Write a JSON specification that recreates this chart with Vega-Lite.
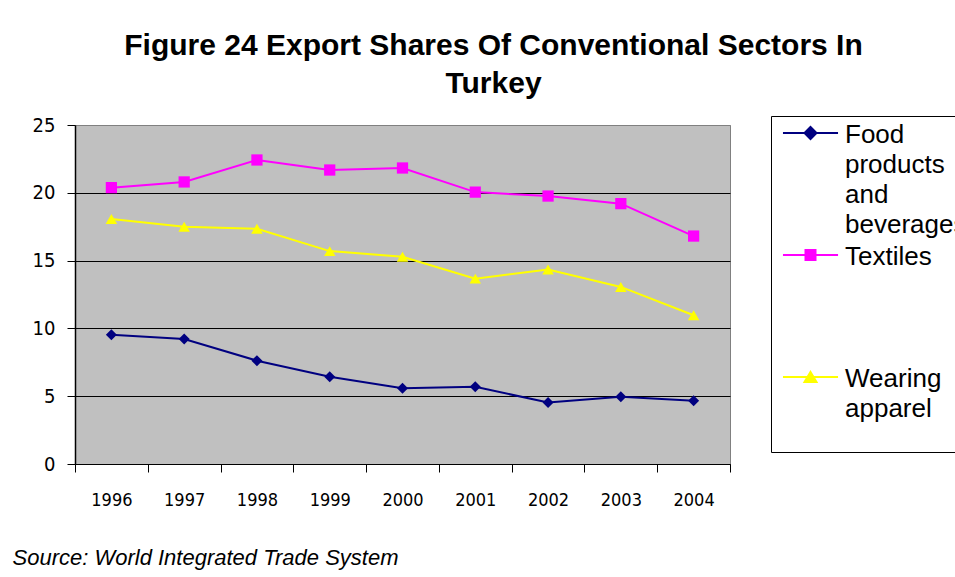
{
  "$schema": "https://vega.github.io/schema/vega-lite/v6.json",
  "autosize": {"type": "none"},
  "width": 655,
  "height": 339,
  "padding": {"left": 75, "top": 125, "right": 225, "bottom": 113},
  "background": "white",
  "title": {
    "text": ["Figure 24 Export Shares Of Conventional Sectors In", "Turkey"],
    "font": "Liberation Sans",
    "fontSize": 30,
    "fontWeight": "bold",
    "color": "black",
    "anchor": "middle",
    "frame": "group",
    "dx": 91,
    "dy": 40,
    "lineHeight": 38,
    "baseline": "bottom",
    "offset": 26
  },
  "data": {
    "values": [
      {"year": "1996", "series": "Food products and beverages", "value": 9.54},
      {"year": "1997", "series": "Food products and beverages", "value": 9.22},
      {"year": "1998", "series": "Food products and beverages", "value": 7.62},
      {"year": "1999", "series": "Food products and beverages", "value": 6.44},
      {"year": "2000", "series": "Food products and beverages", "value": 5.58},
      {"year": "2001", "series": "Food products and beverages", "value": 5.69},
      {"year": "2002", "series": "Food products and beverages", "value": 4.54},
      {"year": "2003", "series": "Food products and beverages", "value": 4.96},
      {"year": "2004", "series": "Food products and beverages", "value": 4.66},
      {"year": "1996", "series": "Textiles", "value": 20.38},
      {"year": "1997", "series": "Textiles", "value": 20.8},
      {"year": "1998", "series": "Textiles", "value": 22.42},
      {"year": "1999", "series": "Textiles", "value": 21.68},
      {"year": "2000", "series": "Textiles", "value": 21.83},
      {"year": "2001", "series": "Textiles", "value": 20.05},
      {"year": "2002", "series": "Textiles", "value": 19.76},
      {"year": "2003", "series": "Textiles", "value": 19.2},
      {"year": "2004", "series": "Textiles", "value": 16.81},
      {"year": "1996", "series": "Wearing apparel", "value": 18.07},
      {"year": "1997", "series": "Wearing apparel", "value": 17.5},
      {"year": "1998", "series": "Wearing apparel", "value": 17.35},
      {"year": "1999", "series": "Wearing apparel", "value": 15.7},
      {"year": "2000", "series": "Wearing apparel", "value": 15.29},
      {"year": "2001", "series": "Wearing apparel", "value": 13.67},
      {"year": "2002", "series": "Wearing apparel", "value": 14.34},
      {"year": "2003", "series": "Wearing apparel", "value": 13.06},
      {"year": "2004", "series": "Wearing apparel", "value": 10.97}
    ]
  },
  "encoding": {
    "x": {
      "field": "year",
      "type": "ordinal",
      "bandPosition": 0.5,
      "scale": {"type": "band", "paddingInner": 0, "paddingOuter": 0},
      "axis": {
        "title": "Source: World Integrated Trade System",
        "titleFont": "Liberation Sans",
        "titleFontSize": 22,
        "titleFontStyle": "italic",
        "titleFontWeight": "normal",
        "titleColor": "black",
        "titleX": -63,
        "titleY": 100,
        "titleAlign": "left",
        "titleAnchor": "start",
        "titleBaseline": "alphabetic",
        "labelAngle": 0,
        "labelFont": "Liberation Sans Narrow, DejaVu Sans Condensed, Liberation Sans, sans-serif",
        "labelFontSize": 18,
        "labelColor": "black",
        "labelPadding": 19,
        "tickBand": "extent",
        "tickSize": 8,
        "tickColor": "black",
        "domainColor": "black",
        "grid": false
      }
    },
    "y": {
      "field": "value",
      "type": "quantitative",
      "scale": {"domain": [0, 25], "nice": false},
      "axis": {
        "title": null,
        "values": [0, 5, 10, 15, 20, 25],
        "grid": true,
        "gridColor": {"condition": {"test": "datum.value == 25", "value": "#808080"}, "value": "black"},
        "gridWidth": 1,
        "tickSize": 8,
        "tickColor": "black",
        "domainColor": "black",
        "domainWidth": 1.5,
        "labelFont": "Liberation Sans Narrow, DejaVu Sans Condensed, Liberation Sans, sans-serif",
        "labelFontSize": 20,
        "labelPadding": 12,
        "labelColor": "black"
      }
    }
  },
  "layer": [
    {
      "mark": {"type": "line", "strokeWidth": 2},
      "encoding": {
        "color": {
          "field": "series",
          "type": "nominal",
          "scale": {"domain": ["Food products and beverages", "Textiles", "Wearing apparel"], "range": ["#000080", "#FF00FF", "#FFFF00"]},
          "legend": null
        }
      }
    },
    {
      "mark": {"type": "point", "filled": true, "opacity": 1, "strokeWidth": 0},
      "encoding": {
        "color": {
          "field": "series",
          "type": "nominal",
          "scale": {"domain": ["Food products and beverages", "Textiles", "Wearing apparel"], "range": ["#000080", "#FF00FF", "#FFFF00"]},
          "legend": null
        },
        "shape": {
          "field": "series",
          "type": "nominal",
          "scale": {"domain": ["Food products and beverages", "Textiles", "Wearing apparel"], "range": ["diamond", "square", "triangle-up"]},
          "legend": null
        },
        "size": {
          "field": "series",
          "type": "nominal",
          "scale": {"domain": ["Food products and beverages", "Textiles", "Wearing apparel"], "range": [121, 132, 169]},
          "legend": null
        }
      }
    },
    {
      "transform": [{"filter": "datum.value < 0"}],
      "mark": {"type": "point", "filled": true, "strokeWidth": 2, "size": 2601},
      "encoding": {
        "fill": {
          "field": "series",
          "type": "nominal",
          "scale": {"domain": ["Food products and beverages", "Textiles", "Wearing apparel"], "range": ["#000080", "#FF00FF", "#FFFF00"]},
          "legend": {"title": null}
        },
        "stroke": {
          "field": "series",
          "type": "nominal",
          "scale": {"domain": ["Food products and beverages", "Textiles", "Wearing apparel"], "range": ["#000080", "#FF00FF", "#FFFF00"]},
          "legend": {"title": null}
        },
        "shape": {
          "field": "series",
          "type": "nominal",
          "scale": {
            "domain": ["Food products and beverages", "Textiles", "Wearing apparel"],
            "range": [
              "M-0.57,-0.373H1.59M0.51,-0.608L0.745,-0.373L0.51,-0.138L0.275,-0.373Z",
              "M-0.57,-0.373H1.59M0.314,-0.569H0.706V-0.177H0.314Z",
              "M-0.57,-0.373H1.59M0.51,-0.569L0.745,-0.177H0.275Z"
            ]
          },
          "legend": {
            "title": null,
            "labelExpr": "datum.label == 'Food products and beverages' ? ['Food','products','and','beverages'] : datum.label == 'Textiles' ? ['Textiles','','',''] : ['Wearing','apparel','']"
          }
        }
      }
    }
  ],
  "resolve": {"scale": {"shape": "independent", "fill": "independent", "stroke": "independent"}},
  "config": {
    "view": {"fill": "#C0C0C0", "stroke": "#808080", "strokeWidth": 1},
    "style": {"guide-label": {"lineHeight": 30}},
    "legend": {
      "orient": "none",
      "legendX": 696,
      "legendY": -9,
      "strokeColor": "black",
      "fillColor": "white",
      "padding": 0,
      "labelFont": "Liberation Sans",
      "labelFontSize": 26,
      "labelColor": "black",
      "labelBaseline": "alphabetic",
      "labelOffset": 21,
      "labelLimit": 300,
      "rowPadding": 0,
      "symbolSize": 2601,
      "symbolStrokeWidth": 2,
      "symbolOpacity": 1
    }
  }
}
